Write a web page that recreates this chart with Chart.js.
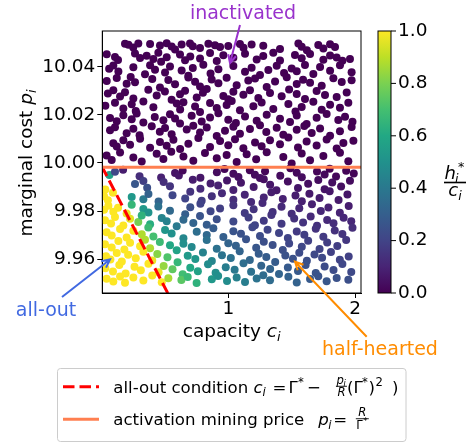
<!DOCTYPE html>
<html lang="en">
<head>
<meta charset="UTF-8">
<title>Marginal cost vs capacity</title>
<script src="https://cdn.jsdelivr.net/npm/chart.js"></script>
<style>
  html, body { margin: 0; padding: 0; background: #fff; }
  #wrap { width: 473px; height: 443px; }
</style>
</head>
<body>
<div id="wrap"><canvas id="costChart" width="473" height="443"></canvas></div>
<script>
// axis ranges and ticks
const xMin = 0.006, xMax = 2.047;
const yMin = 9.9459, yMax = 10.0549;
const xTicks = [1, 2];
const yTicks = [9.96, 9.98, 10.00, 10.02, 10.04];
const colorTicks = [0, 0.2, 0.4, 0.6, 0.8, 1.0];

// activation mining price p = R / Gamma*
const priceLevel = 9.9982;
// all-out condition line (c, p)
const allOutC = [0.0, 0.53];
const allOutP = [9.9988, 9.9451];

// inactivated miners (h*/c = 0), one line per band of p
const inactiveC = [
  0.185, 0.212, 0.25, 0.29, 0.383, 0.461, 0.514, 0.553, 0.58, 0.632, 0.698, 0.72, 0.777, 0.843, 0.895, 0.935, 1.0, 1.092, 1.12, 1.184, 1.276, 1.408, 1.553, 1.579, 1.62, 1.71, 1.75, 1.803, 1.842,
  0.041, 0.106, 0.13, 0.264, 0.304, 0.356, 0.409, 0.448, 0.47, 0.514, 0.619, 0.659, 0.70, 0.777, 0.856, 0.909, 0.961, 1.040, 1.132, 1.224, 1.276, 1.355, 1.408, 1.526, 1.579, 1.645, 1.750, 1.803, 1.855, 1.90, 1.96,
  0.06, 0.093, 0.133, 0.251, 0.343, 0.383, 0.422, 0.501, 0.540, 0.632, 0.685, 0.72, 0.803, 0.86, 0.922, 1.040, 1.132, 1.184, 1.250, 1.316, 1.382, 1.44, 1.500, 1.540, 1.605, 1.671, 1.724, 1.803, 1.881, 1.973,
  0.041, 0.120, 0.198, 0.23, 0.264, 0.40, 0.461, 0.527, 0.58, 0.685, 0.738, 0.777, 0.869, 0.922, 0.987, 1.066, 1.158, 1.211, 1.303, 1.369, 1.461, 1.540, 1.59, 1.645, 1.737, 1.829, 1.895, 1.973,
  0.05, 0.093, 0.146, 0.185, 0.251, 0.369, 0.435, 0.50, 0.553, 0.619, 0.659, 0.751, 0.80, 0.830, 0.961, 1.0, 1.040, 1.119, 1.171, 1.237, 1.329, 1.421, 1.48, 1.540, 1.605, 1.697, 1.763, 1.855, 1.934,
  0.03, 0.106, 0.172, 0.238, 0.27, 0.330, 0.409, 0.593, 0.62, 0.646, 0.738, 0.777, 0.856, 0.909, 0.987, 1.027, 1.092, 1.198, 1.263, 1.355, 1.474, 1.53, 1.579, 1.671, 1.737, 1.803, 1.881, 1.947,
  0.067, 0.12, 0.172, 0.238, 0.277, 0.330, 0.42, 0.488, 0.54, 0.580, 0.619, 0.711, 0.790, 0.856, 0.922, 1.0, 1.06, 1.132, 1.224, 1.303, 1.408, 1.487, 1.540, 1.618, 1.697, 1.776, 1.868, 1.921, 1.98,
  0.067, 0.106, 0.198, 0.251, 0.30, 0.396, 0.46, 0.501, 0.553, 0.672, 0.724, 0.777, 0.830, 0.909, 0.974, 1.040, 1.092, 1.171, 1.250, 1.30, 1.382, 1.434, 1.540, 1.60, 1.658, 1.724, 1.803, 1.881, 1.973,
  0.093, 0.120, 0.172, 0.225, 0.304, 0.383, 0.461, 0.514, 0.567, 0.62, 0.685, 0.764, 0.856, 0.935, 1.0, 1.053, 1.119, 1.211, 1.263, 1.329, 1.408, 1.474, 1.55, 1.618, 1.697, 1.776, 1.855, 1.908, 1.987,
  0.04, 0.080, 0.146, 0.251, 0.317, 0.435, 0.488, 0.55, 0.646, 0.724, 0.816, 0.909, 0.987, 1.066, 1.145, 1.22, 1.303, 1.434, 1.50, 1.579, 1.645, 1.750, 1.881, 1.947
];
const inactiveP = [
  10.0496, 10.0492, 10.0480, 10.0497, 10.0495, 10.0489, 10.0498, 10.0484, 10.0472, 10.0493, 10.0497, 10.0486, 10.0478, 10.0496, 10.0490, 10.0482, 10.0487, 10.0495, 10.0479, 10.0493, 10.0488, 10.0474, 10.0497, 10.0483, 10.0469, 10.0491, 10.0476, 10.0494, 10.0482,
  10.0452, 10.0441, 10.0428, 10.0455, 10.0437, 10.0446, 10.0433, 10.0458, 10.0421, 10.0440, 10.0451, 10.0427, 10.0443, 10.0435, 10.0457, 10.0424, 10.0448, 10.0438, 10.0454, 10.0430, 10.0445, 10.0458, 10.0426, 10.0449, 10.0436, 10.0453, 10.0429, 10.0447, 10.0439, 10.0425, 10.0433,
  10.0392, 10.0405, 10.0381, 10.0398, 10.0369, 10.0407, 10.0388, 10.0376, 10.0401, 10.0385, 10.0363, 10.0395, 10.0409, 10.0372, 10.0390, 10.0403, 10.0379, 10.0396, 10.0366, 10.0387, 10.0404, 10.0374, 10.0393, 10.0382, 10.0408, 10.0370, 10.0399, 10.0384, 10.0406, 10.0377,
  10.0341, 10.0353, 10.0330, 10.0358, 10.0336, 10.0349, 10.0314, 10.0345, 10.0327, 10.0356, 10.0338, 10.0318, 10.0347, 10.0332, 10.0355, 10.0323, 10.0343, 10.0351, 10.0316, 10.0339, 10.0357, 10.0328, 10.0346, 10.0334, 10.0321, 10.0352, 10.0337, 10.0344,
  10.0289, 10.0302, 10.0276, 10.0294, 10.0268, 10.0305, 10.0281, 10.0297, 10.0263, 10.0286, 10.0300, 10.0272, 10.0292, 10.0308, 10.0279, 10.0265, 10.0296, 10.0284, 10.0303, 10.0270, 10.0291, 10.0278, 10.0306, 10.0287, 10.0266, 10.0299, 10.0283, 10.0274, 10.0293,
  10.0238, 10.0251, 10.0227, 10.0244, 10.0216, 10.0256, 10.0232, 10.0247, 10.0222, 10.0253, 10.0235, 10.0212, 10.0249, 10.0229, 10.0241, 10.0258, 10.0219, 10.0236, 10.0252, 10.0225, 10.0245, 10.0214, 10.0233, 10.0255, 10.0221, 10.0242, 10.0230, 10.0250,
  10.0187, 10.0174, 10.0199, 10.0182, 10.0206, 10.0168, 10.0191, 10.0178, 10.0203, 10.0185, 10.0164, 10.0196, 10.0173, 10.0189, 10.0207, 10.0180, 10.0166, 10.0193, 10.0176, 10.0201, 10.0184, 10.0170, 10.0197, 10.0162, 10.0188, 10.0204, 10.0179, 10.0192, 10.0171,
  10.0136, 10.0149, 10.0124, 10.0142, 10.0115, 10.0153, 10.0130, 10.0145, 10.0119, 10.0139, 10.0155, 10.0127, 10.0148, 10.0112, 10.0134, 10.0151, 10.0122, 10.0141, 10.0157, 10.0129, 10.0146, 10.0117, 10.0138, 10.0154, 10.0125, 10.0143, 10.0113, 10.0132, 10.0150,
  10.0082, 10.0068, 10.0094, 10.0076, 10.0101, 10.0063, 10.0087, 10.0072, 10.0097, 10.0058, 10.0080, 10.0104, 10.0066, 10.0091, 10.0074, 10.0099, 10.0061, 10.0085, 10.0070, 10.0095, 10.0078, 10.0106, 10.0064, 10.0089, 10.0073, 10.0098, 10.0060, 10.0083, 10.0092,
  10.0031, 10.0012, 10.0044, 10.0023, 10.0006, 10.0038, 10.0017, 10.0047, 10.0027, 10.0009, 10.0041, 10.0020, 10.0033, 10.0004, 10.0036, 10.0015, 10.0045, 10.0025, 9.9998, 10.0039, 10.0011, 10.0029, 10.0042, 10.0007
];

// active miners below the price line, h*/c
const activeC = [
  0.062, 0.106, 0.17, 0.30, 0.47, 0.58, 0.61, 0.64, 0.78, 0.91, 0.97, 1.04, 1.08, 1.17, 1.21, 1.25, 1.29, 1.41, 1.49, 1.54, 1.58, 1.70, 1.76, 1.80, 1.85, 1.93, 1.99,
  0.03, 0.264, 0.33, 0.36, 0.49, 0.54, 0.72, 0.78, 0.86, 0.92, 0.99, 1.04, 1.10, 1.20, 1.28, 1.33, 1.38, 1.47, 1.55, 1.63, 1.71, 1.76, 1.82, 1.89, 1.96,
  0.02, 0.05, 0.09, 0.238, 0.33, 0.37, 0.45, 0.56, 0.66, 0.70, 0.79, 0.87, 0.95, 1.04, 1.13, 1.18, 1.28, 1.34, 1.43, 1.53, 1.58, 1.64, 1.72, 1.80, 1.87, 1.94,
  0.02, 0.054, 0.093, 0.13, 0.198, 0.238, 0.33, 0.37, 0.448, 0.54, 0.66, 0.70, 0.78, 0.86, 0.935, 1.04, 1.13, 1.20, 1.27, 1.35, 1.42, 1.50, 1.56, 1.66, 1.73, 1.79, 1.88, 1.95,
  0.027, 0.075, 0.106, 0.172, 0.225, 0.29, 0.317, 0.383, 0.475, 0.514, 0.593, 0.646, 0.724, 0.777, 0.83, 0.909, 1.04, 1.16, 1.21, 1.28, 1.34, 1.42, 1.52, 1.59, 1.65, 1.70, 1.78, 1.83, 1.91, 1.97,
  0.04, 0.08, 0.146, 0.198, 0.251, 0.317, 0.369, 0.409, 0.501, 0.553, 0.646, 0.751, 0.83, 0.882, 0.961, 1.04, 1.10, 1.19, 1.25, 1.31, 1.40, 1.47, 1.54, 1.60, 1.69, 1.75, 1.84, 1.90, 1.98,
  0.027, 0.08, 0.133, 0.18, 0.225, 0.304, 0.343, 0.383, 0.46, 0.54, 0.593, 0.646, 0.711, 0.83, 0.909, 1.0, 1.06, 1.14, 1.22, 1.28, 1.35, 1.43, 1.48, 1.58, 1.63, 1.72, 1.78, 1.86, 1.93,
  0.035, 0.07, 0.12, 0.16, 0.21, 0.27, 0.33, 0.40, 0.44, 0.52, 0.60, 0.68, 0.74, 0.80, 0.87, 0.95, 1.02, 1.09, 1.17, 1.24, 1.30, 1.37, 1.45, 1.51, 1.56, 1.62, 1.68, 1.74, 1.81, 1.88, 1.95,
  0.03, 0.09, 0.14, 0.19, 0.26, 0.31, 0.37, 0.45, 0.49, 0.56, 0.64, 0.70, 0.76, 0.84, 0.90, 0.98, 1.05, 1.12, 1.18, 1.26, 1.33, 1.40, 1.47, 1.55, 1.61, 1.69, 1.76, 1.83, 1.90, 1.97,
  0.04, 0.093, 0.146, 0.185, 0.251, 0.33, 0.40, 0.475, 0.527, 0.63, 0.68, 0.75, 0.87, 0.92, 0.99, 1.066, 1.132, 1.224, 1.276, 1.329, 1.474, 1.54, 1.645, 1.71, 1.776, 1.855, 1.947
];
const activeP = [
  9.9950, 9.9963, 9.9972, 9.9945, 9.9940, 9.9958, 9.9948, 9.9969, 9.9938, 9.9961, 9.9975, 9.9955, 9.9942, 9.9970, 9.9951, 9.9937, 9.9966, 9.9947, 9.9978, 9.9959, 9.9941, 9.9964, 9.9952, 9.9976, 9.9944, 9.9968, 9.9956,
  9.9890, 9.9912, 9.9925, 9.9897, 9.9921, 9.9903, 9.9930, 9.9893, 9.9915, 9.9906, 9.9927, 9.9888, 9.9918, 9.9900, 9.9932, 9.9909, 9.9886, 9.9923, 9.9896, 9.9914, 9.9929, 9.9891, 9.9919, 9.9902, 9.9926,
  9.9862, 9.9845, 9.9876, 9.9858, 9.9849, 9.9871, 9.9840, 9.9866, 9.9852, 9.9880, 9.9843, 9.9861, 9.9874, 9.9847, 9.9868, 9.9838, 9.9856, 9.9878, 9.9850, 9.9865, 9.9841, 9.9872, 9.9854, 9.9882, 9.9846, 9.9869,
  9.9805, 9.9822, 9.9797, 9.9814, 9.9790, 9.9826, 9.9808, 9.9794, 9.9819, 9.9801, 9.9787, 9.9816, 9.9830, 9.9799, 9.9811, 9.9824, 9.9792, 9.9807, 9.9833, 9.9796, 9.9818, 9.9789, 9.9812, 9.9828, 9.9800, 9.9815, 9.9793, 9.9821,
  9.9762, 9.9748, 9.9775, 9.9740, 9.9768, 9.9754, 9.9781, 9.9745, 9.9771, 9.9758, 9.9737, 9.9764, 9.9750, 9.9779, 9.9743, 9.9766, 9.9756, 9.9773, 9.9741, 9.9760, 9.9783, 9.9747, 9.9769, 9.9752, 9.9777, 9.9739, 9.9763, 9.9749, 9.9772, 9.9757,
  9.9712, 9.9698, 9.9725, 9.9690, 9.9718, 9.9703, 9.9731, 9.9694, 9.9721, 9.9707, 9.9687, 9.9714, 9.9700, 9.9728, 9.9692, 9.9716, 9.9705, 9.9733, 9.9696, 9.9722, 9.9709, 9.9688, 9.9715, 9.9701, 9.9726, 9.9693, 9.9719, 9.9704, 9.9730,
  9.9662, 9.9648, 9.9675, 9.9640, 9.9668, 9.9654, 9.9681, 9.9645, 9.9671, 9.9658, 9.9637, 9.9664, 9.9650, 9.9679, 9.9643, 9.9666, 9.9656, 9.9683, 9.9647, 9.9672, 9.9659, 9.9638, 9.9665, 9.9651, 9.9676, 9.9642, 9.9669, 9.9655, 9.9680,
  9.9612, 9.9598, 9.9625, 9.9590, 9.9618, 9.9604, 9.9631, 9.9594, 9.9621, 9.9608, 9.9587, 9.9614, 9.9600, 9.9628, 9.9592, 9.9616, 9.9605, 9.9633, 9.9596, 9.9622, 9.9609, 9.9588, 9.9615, 9.9601, 9.9626, 9.9593, 9.9619, 9.9606, 9.9630, 9.9597, 9.9611,
  9.9562, 9.9548, 9.9575, 9.9540, 9.9568, 9.9554, 9.9581, 9.9545, 9.9571, 9.9558, 9.9537, 9.9564, 9.9550, 9.9579, 9.9543, 9.9566, 9.9556, 9.9583, 9.9547, 9.9572, 9.9559, 9.9538, 9.9565, 9.9551, 9.9576, 9.9542, 9.9569, 9.9555, 9.9580, 9.9546,
  9.9518, 9.9507, 9.9528, 9.9502, 9.9523, 9.9511, 9.9532, 9.9504, 9.9520, 9.9513, 9.9526, 9.9501, 9.9516, 9.9530, 9.9509, 9.9524, 9.9505, 9.9519, 9.9533, 9.9512, 9.9527, 9.9503, 9.9517, 9.9529, 9.9508, 9.9521, 9.9514
];
const activeV = [
  0.56, 0.21, 0.08, 0.13, 0.09, 0.05, 0.06, 0.02, 0.06, 0.03, 0.01, 0.03, 0.04, 0.01, 0.03, 0.04, 0.01, 0.03, 0.00, 0.02, 0.03, 0.01, 0.02, 0.00, 0.02, 0.01, 0.01,
  1.00, 0.27, 0.18, 0.24, 0.13, 0.15, 0.08, 0.12, 0.08, 0.09, 0.06, 0.09, 0.06, 0.07, 0.04, 0.06, 0.07, 0.04, 0.06, 0.04, 0.03, 0.05, 0.04, 0.04, 0.03,
  1.00, 1.00, 1.00, 0.53, 0.41, 0.31, 0.32, 0.21, 0.20, 0.15, 0.18, 0.14, 0.12, 0.13, 0.10, 0.12, 0.10, 0.08, 0.09, 0.08, 0.09, 0.07, 0.08, 0.06, 0.07, 0.06,
  1.00, 1.00, 1.00, 1.00, 0.97, 0.66, 0.53, 0.51, 0.37, 0.34, 0.30, 0.24, 0.20, 0.21, 0.18, 0.15, 0.17, 0.15, 0.12, 0.14, 0.12, 0.13, 0.11, 0.09, 0.11, 0.09, 0.10, 0.08,
  1.00, 1.00, 1.00, 1.00, 0.96, 0.79, 0.64, 0.62, 0.45, 0.44, 0.41, 0.34, 0.32, 0.26, 0.29, 0.24, 0.22, 0.18, 0.20, 0.17, 0.15, 0.17, 0.14, 0.15, 0.12, 0.14, 0.12, 0.13, 0.11, 0.11,
  1.00, 1.00, 1.00, 1.00, 1.00, 0.88, 0.68, 0.70, 0.52, 0.50, 0.46, 0.36, 0.34, 0.29, 0.30, 0.26, 0.25, 0.21, 0.23, 0.20, 0.20, 0.20, 0.17, 0.18, 0.15, 0.17, 0.14, 0.15, 0.13,
  1.00, 1.00, 1.00, 1.00, 1.00, 1.00, 0.88, 0.88, 0.68, 0.60, 0.58, 0.49, 0.47, 0.37, 0.37, 0.32, 0.31, 0.26, 0.27, 0.24, 0.24, 0.24, 0.21, 0.21, 0.19, 0.20, 0.18, 0.18, 0.16,
  1.00, 1.00, 1.00, 1.00, 1.00, 1.00, 1.00, 0.97, 0.82, 0.72, 0.66, 0.54, 0.52, 0.44, 0.45, 0.38, 0.37, 0.32, 0.33, 0.29, 0.29, 0.29, 0.25, 0.25, 0.23, 0.24, 0.22, 0.22, 0.19, 0.20, 0.19,
  1.00, 1.00, 1.00, 1.00, 1.00, 1.00, 1.00, 0.97, 0.84, 0.75, 0.69, 0.60, 0.57, 0.48, 0.49, 0.42, 0.40, 0.36, 0.37, 0.32, 0.32, 0.32, 0.28, 0.28, 0.25, 0.26, 0.23, 0.23, 0.21, 0.22,
  1.00, 1.00, 1.00, 1.00, 1.00, 1.00, 1.00, 1.00, 0.87, 0.74, 0.67, 0.64, 0.53, 0.49, 0.48, 0.43, 0.42, 0.38, 0.35, 0.35, 0.31, 0.31, 0.28, 0.26, 0.27, 0.25, 0.24
];

// viridis colour map
const VIRIDIS = [
  [68, 1, 84], [72, 36, 117], [65, 68, 135], [53, 95, 141], [42, 120, 142], [33, 145, 140],
  [34, 168, 132], [68, 191, 112], [122, 209, 81], [189, 223, 38], [253, 231, 37]
];
function viridis(v) {
  v = Math.max(0, Math.min(1, v));
  const f = v * 10, i = Math.min(9, Math.floor(f)), t = f - i;
  const a = VIRIDIS[i], b = VIRIDIS[i + 1];
  const c = a.map((x, k) => Math.round(x + (b[k] - x) * t));
  return 'rgb(' + c.join(',') + ')';
}

const FAMILY = '"DejaVu Sans"';
function font(size, italic) {
  return (italic ? 'italic ' : '') + size + 'px ' + FAMILY;
}
// parts: [text, size, italic, dy]
function runWidth(ctx, parts) {
  let w = 0;
  parts.forEach(p => { ctx.font = font(p[1], p[2]); w += ctx.measureText(p[0]).width; });
  return w;
}
function drawRun(ctx, parts, x, y) {
  parts.forEach(p => {
    ctx.font = font(p[1], p[2]);
    ctx.fillText(p[0], x, y + (p[3] || 0));
    x += ctx.measureText(p[0]).width;
  });
  return x;
}
function drawArrow(ctx, x0, y0, x1, y1, color) {
  const ang = Math.atan2(y1 - y0, x1 - x0), hl = 9, hw = 0.46;
  ctx.strokeStyle = color;
  ctx.lineWidth = 2;
  ctx.setLineDash([]);
  ctx.beginPath();
  ctx.moveTo(x0, y0); ctx.lineTo(x1, y1);
  ctx.moveTo(x1 - hl * Math.cos(ang - hw), y1 - hl * Math.sin(ang - hw));
  ctx.lineTo(x1, y1);
  ctx.lineTo(x1 - hl * Math.cos(ang + hw), y1 - hl * Math.sin(ang + hw));
  ctx.stroke();
}

const decorPlugin = {
  id: 'decor',
  afterDraw(chart) {
    const ctx = chart.ctx, a = chart.chartArea;
    ctx.save();
    ctx.fillStyle = '#000';
    ctx.textBaseline = 'alphabetic';
    ctx.textAlign = 'left';

    // full frame around the axes
    ctx.strokeStyle = '#000';
    ctx.lineWidth = 1;
    ctx.strokeRect(a.left, a.top, a.right - a.left, a.bottom - a.top);

    // axis titles
    const xl = [['capacity ', 18.5, false], ['c', 18.5, true], ['i', 13, true, 4]];
    drawRun(ctx, xl, (a.left + a.right) / 2 - runWidth(ctx, xl) / 2, 337);
    const yl = [['marginal cost ', 18.5, false], ['p', 18.5, true], ['i', 13, true, 4]];
    ctx.save();
    ctx.translate(25, (a.top + a.bottom) / 2 + 1);
    ctx.rotate(-Math.PI / 2);
    drawRun(ctx, yl, -runWidth(ctx, yl) / 2, 6.7);
    ctx.restore();

    // colour bar
    const cbL = 378, cbR = 391;
    const g = ctx.createLinearGradient(0, a.bottom, 0, a.top);
    VIRIDIS.forEach((c, k) => g.addColorStop(k / 10, 'rgb(' + c.join(',') + ')'));
    ctx.fillStyle = g;
    ctx.fillRect(cbL, a.top, cbR - cbL, a.bottom - a.top);
    ctx.strokeStyle = '#000';
    ctx.lineWidth = 1;
    ctx.strokeRect(cbL, a.top, cbR - cbL, a.bottom - a.top);
    ctx.fillStyle = '#000';
    ctx.font = font(18.5, false);
    ctx.textBaseline = 'middle';
    colorTicks.forEach(v => {
      const y = a.bottom - v * (a.bottom - a.top);
      ctx.beginPath(); ctx.moveTo(cbR, y); ctx.lineTo(cbR + 5, y); ctx.stroke();
      ctx.fillText(v.toFixed(1), cbR + 7, y);
    });
    ctx.textBaseline = 'alphabetic';

    // colour bar label h*_i / c_i
    const fx = 455, barY = 182.5;
    ctx.font = font(18, true);
    const wh = ctx.measureText('h').width;
    ctx.font = font(12.6, true);
    const wsub = ctx.measureText('i').width;
    const numW = wh + wsub + 6;
    let nx = fx - numW / 2;
    ctx.font = font(18, true); ctx.fillText('h', nx, barY - 4);
    ctx.font = font(12.6, true); ctx.fillText('i', nx + wh - 1, barY);
    ctx.font = font(12.6, false); ctx.fillText('*', nx + wh + 2, barY - 12);
    ctx.fillRect(fx - 11, barY - 0.8, 22, 1.6);
    const den = [['c', 18, true], ['i', 12.6, true, 4]];
    drawRun(ctx, den, fx - runWidth(ctx, den) / 2, barY + 13.5);

    // annotations
    ctx.font = font(19, false);
    ctx.textAlign = 'center';
    ctx.fillStyle = '#9932cc';
    ctx.fillText('inactivated', 243, 18.5);
    ctx.fillStyle = '#4169e1';
    ctx.fillText('all-out', 46, 316);
    ctx.fillStyle = '#ff8c00';
    ctx.fillText('half-hearted', 380, 355);
    ctx.textAlign = 'left';
    drawArrow(ctx, 240, 25, 230, 63, '#9932cc');
    drawArrow(ctx, 62, 297, 110, 259.5, '#4169e1');
    drawArrow(ctx, 366.7, 336.7, 295, 261.7, '#ff8c00');

    // legend
    ctx.beginPath();
    ctx.roundRect(57.5, 368.5, 348.5, 73, 3);
    ctx.fillStyle = 'rgba(255,255,255,0.8)';
    ctx.fill();
    ctx.strokeStyle = '#cccccc';
    ctx.lineWidth = 1;
    ctx.stroke();

    ctx.lineWidth = 3;
    ctx.strokeStyle = '#ff0000';
    ctx.setLineDash([11.5, 5]);
    ctx.beginPath(); ctx.moveTo(63, 386.7); ctx.lineTo(99, 386.7); ctx.stroke();
    ctx.setLineDash([]);
    ctx.strokeStyle = '#ff7f50';
    ctx.beginPath(); ctx.moveTo(63, 419.3); ctx.lineTo(99, 419.3); ctx.stroke();

    ctx.fillStyle = '#000';
    const ls = 16.6, sm = 11.6, tiny = 8.2;
    // entry 1
    let b1 = 392.5;
    ctx.font = font(ls, false);
    ctx.fillText('all-out condition ', 113.3, b1);
    const c0 = 113.3 + ctx.measureText('all-out condition ').width;
    ctx.font = font(ls, true); ctx.fillText('c', c0, b1);
    ctx.font = font(sm, true); ctx.fillText('i', c0 + 9, b1 + 3.5);
    ctx.font = font(ls, false);
    ctx.fillText('=', c0 + 19, b1);
    ctx.fillText('\u0393', c0 + 35, b1);
    ctx.font = font(sm, false); ctx.fillText('*', c0 + 44.5, b1 - 7);
    ctx.font = font(ls, false); ctx.fillText('\u2212', c0 + 53.5, b1);
    // fraction p_i / R
    const f1 = c0 + 88, fb1 = b1 - 6.3;
    ctx.font = font(sm, true); ctx.fillText('p', f1 - 5, fb1 - 2.5);
    ctx.font = font(tiny, true); ctx.fillText('i', f1 + 2, fb1 - 0.5);
    ctx.fillRect(f1 - 5.5, fb1 - 0.4, 11, 0.9);
    ctx.font = font(sm, true); ctx.fillText('R', f1 - 4, fb1 + 9.5);
    ctx.font = font(ls, false);
    ctx.fillText('(\u0393', c0 + 93.5, b1);
    ctx.font = font(sm, false); ctx.fillText('*', c0 + 108.5, b1 - 7);
    ctx.font = font(ls, false); ctx.fillText(')', c0 + 115, b1);
    ctx.font = font(sm, false); ctx.fillText('2', c0 + 122, b1 - 7);
    ctx.font = font(ls, false); ctx.fillText(')', c0 + 138.5, b1);

    // entry 2
    let b2 = 425;
    ctx.font = font(ls, false);
    ctx.fillText('activation mining price', 113.3, b2);
    const p0 = 318.3;
    ctx.font = font(ls, true); ctx.fillText('p', p0, b2);
    ctx.font = font(sm, true); ctx.fillText('i', p0 + 10, b2 + 3.5);
    ctx.font = font(ls, false); ctx.fillText('=', p0 + 15, b2);
    const f2 = p0 + 44, fb2 = b2 - 6.3;
    ctx.font = font(sm, true); ctx.fillText('R', f2 - 4, fb2 - 2.5);
    ctx.fillRect(f2 - 6.5, fb2 - 0.4, 13, 0.9);
    ctx.font = font(sm, false); ctx.fillText('\u0393', f2 - 6, fb2 + 10);
    ctx.font = font(tiny, false); ctx.fillText('*', f2 + 1, fb2 + 5);

    ctx.restore();
  }
};

const inactiveData = inactiveC.map((c, i) => ({ x: c, y: inactiveP[i] }));
const activeData = activeC.map((c, i) => ({ x: c, y: activeP[i] }));
const activeColors = activeV.map(viridis);
const priceData = [{ x: xMin, y: priceLevel }, { x: xMax, y: priceLevel }];
const allOutData = allOutC.map((c, i) => ({ x: c, y: allOutP[i] }));

const tickFont = { family: 'DejaVu Sans', size: 18.5 };

new Chart(document.getElementById('costChart'), {
  type: 'scatter',
  data: {
    datasets: [
      {
        label: 'activation mining price',
        data: priceData,
        showLine: true,
        borderColor: '#ff7f50',
        borderWidth: 3,
        pointRadius: 0,
        order: 0
      },
      {
        label: 'all-out condition',
        data: allOutData,
        showLine: true,
        borderColor: '#ff0000',
        borderWidth: 3,
        borderDash: [11.5, 5],
        pointRadius: 0,
        order: 0
      },
      {
        label: 'active',
        data: activeData,
        backgroundColor: activeColors,
        pointBorderColor: activeColors,
        pointBorderWidth: 0,
        pointRadius: 4,
        order: 1
      },
      {
        label: 'inactivated',
        data: inactiveData,
        backgroundColor: viridis(0),
        pointBorderColor: viridis(0),
        pointBorderWidth: 0,
        pointRadius: 4,
        order: 2
      }
    ]
  },
  options: {
    responsive: false,
    animation: false,
    devicePixelRatio: 1,
    layout: { padding: { left: 0, top: 31, right: 112, bottom: 0 } },
    plugins: { legend: { display: false }, tooltip: { enabled: false } },
    scales: {
      x: {
        type: 'linear',
        min: xMin,
        max: xMax,
        afterBuildTicks: s => { s.ticks = xTicks.map(v => ({ value: v })); },
        afterFit: s => { s.height = 150; },
        ticks: { color: '#000', font: tickFont, padding: 0, maxRotation: 0, autoSkip: false, callback: v => String(v) },
        grid: { drawOnChartArea: false, drawTicks: true, tickLength: 5, color: '#000' },
        border: { display: true, color: '#000', width: 1 }
      },
      y: {
        type: 'linear',
        min: yMin,
        max: yMax,
        afterBuildTicks: s => { s.ticks = yTicks.map(v => ({ value: v })); },
        afterFit: s => { s.width = 102.3; },
        ticks: { color: '#000', font: tickFont, padding: 2, autoSkip: false, callback: v => v.toFixed(2) },
        grid: { drawOnChartArea: false, drawTicks: true, tickLength: 5, color: '#000' },
        border: { display: true, color: '#000', width: 1 }
      }
    }
  },
  plugins: [decorPlugin]
});
</script>
</body>
</html>
